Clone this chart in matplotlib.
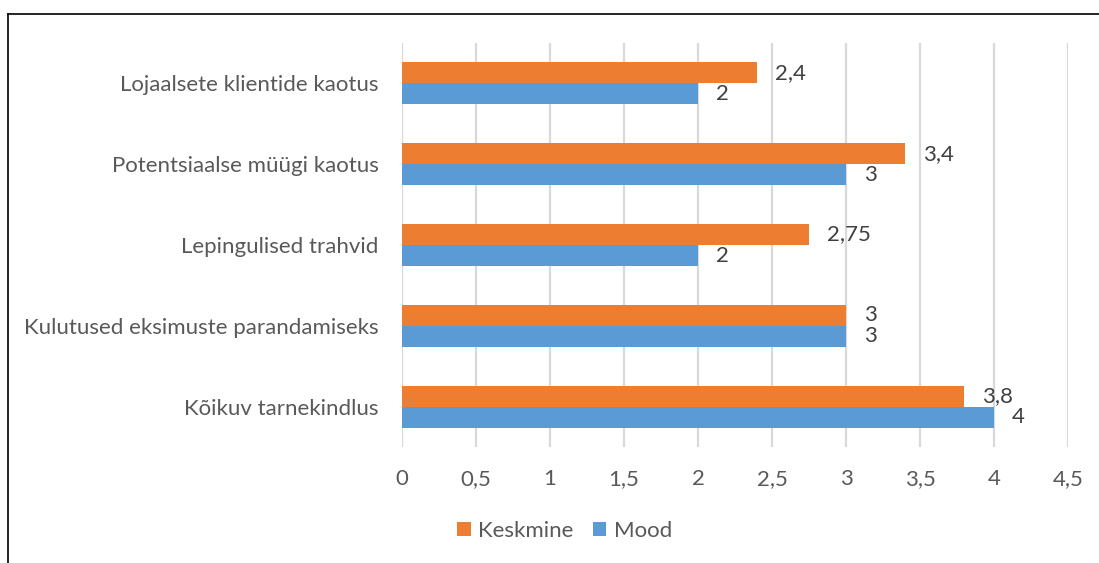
import numpy as np
import matplotlib.pyplot as plt
from matplotlib.lines import Line2D

categories = ['Lojaalsete klientide kaotus', 'Potentsiaalse müügi kaotus',
              'Lepingulised trahvid', 'Kulutused eksimuste parandamiseks',
              'Kõikuv tarnekindlus']
keskmine = [2.4, 3.4, 2.75, 3, 3.8]
mood = [2, 3, 2, 3, 4]
xticks = [0, 0.5, 1, 1.5, 2, 2.5, 3, 3.5, 4, 4.5]

plt.rcParams['font.family'] = ['Lato', 'DejaVu Sans']
grey = '#595959'
orange = '#ED7D31'
blue = '#5B9BD5'
fs = 16

fig = plt.figure(figsize=(10.99, 5.63), dpi=100)
ax = fig.add_axes([0.3658, 0.206, 0.606, 0.7176])

# first category at the top
y = np.arange(len(categories))[::-1]
h = 0.26
b1 = ax.barh(y + h / 2, keskmine, height=h, color=orange, label='Keskmine', zorder=3)
b2 = ax.barh(y - h / 2, mood, height=h, color=blue, label='Mood', zorder=3)

fmt = lambda v: f'{v:g}'.replace('.', ',')
ax.bar_label(b1, labels=[fmt(v) for v in keskmine], padding=13, fontsize=fs, color='#404040')
ax.bar_label(b2, labels=[fmt(v) for v in mood], padding=13, fontsize=fs, color='#404040')

ax.set_xlim(0, 4.5)
ax.set_ylim(-0.5, len(categories) - 0.5)
ax.set_xticks(xticks)
ax.set_xticklabels([fmt(t) for t in xticks], fontsize=fs, color=grey)
ax.set_yticks(y)
ax.set_yticklabels(categories, fontsize=fs, color=grey)
ax.tick_params(length=0, pad=17, axis='y')
ax.tick_params(length=0, pad=16, axis='x')
ax.grid(axis='x', color='#D9D9D9', linewidth=1.6, zorder=0)
for s in ax.spines.values():
    s.set_visible(False)

fig.legend(handles=[b1, b2], loc='center', bbox_to_anchor=(0.5137, 0.057), ncol=2,
           frameon=False, fontsize=fs, handlelength=0.6, handleheight=0.6,
           handletextpad=0.35, columnspacing=0.85, labelcolor=grey)

# outer frame lines (top and left only)
fig.add_artist(Line2D([8 / 1099, 1], [1 - 14 / 563, 1 - 14 / 563], color='black', linewidth=1.2))
fig.add_artist(Line2D([8 / 1099, 8 / 1099], [0, 1 - 14 / 563], color='black', linewidth=1.2))

fig.savefig('out.png', dpi=100)
